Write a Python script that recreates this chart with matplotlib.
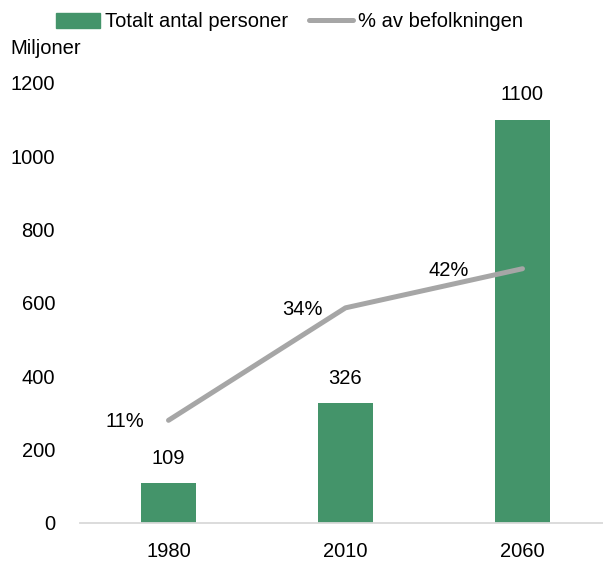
import matplotlib
matplotlib.use("Agg")
import matplotlib.pyplot as plt
from matplotlib.lines import Line2D
from matplotlib.patches import Patch

years = ["1980", "2010", "2060"]
persons = [109, 326, 1100]          # miljoner
share = [0.11, 0.34, 0.42]          # andel av befolkningen
share_labels = ["11%", "34%", "42%"]

plt.rcParams['font.family'] = ['Liberation Sans Narrow', 'Liberation Sans', 'DejaVu Sans']
plt.rcParams['font.size'] = 14.5

bar_color = '#44946A'
line_color = '#A6A6A6'

fig = plt.figure(figsize=(6.03, 5.64), dpi=100)
ax = fig.add_axes([0.1327, 0.0727, 0.8673, 0.7803])
x = range(len(years))
bars = ax.bar(x, persons, width=0.31, color=bar_color, zorder=2)
ax.set_xlim(-0.5, 2.455)
ax.set_ylim(0, 1200)
ax.set_yticks(range(0, 1201, 200))
ax.set_xticks(list(x))
ax.set_xticklabels(years)
ax.tick_params(axis='y', length=0, pad=18)
ax.tick_params(axis='x', length=0, pad=14)
for s in ['top', 'right', 'left']:
    ax.spines[s].set_visible(False)
ax.spines['bottom'].set_color('#D9D9D9')
ax.spines['bottom'].set_linewidth(1.3)

for xi, v in zip(x, persons):
    ax.annotate(str(v), (xi, v), xytext=(0, 25), textcoords='offset pixels',
                ha='center', va='center')

ax2 = ax.twinx()
ax2.set_ylim(-0.1, 0.8)
ax2.plot(list(x), share, color=line_color, lw=3.6, solid_capstyle='round', zorder=3)
ax2.axis('off')
offsets = [(-44, -1), (-43, -2), (-74, -2)]
for xi, v, lab, off in zip(x, share, share_labels, offsets):
    ax2.annotate(lab, (xi, v), xytext=off, textcoords='offset pixels',
                 ha='center', va='center')

fig.text(10 / 603, 1 - 48 / 564, "Miljoner", ha='left', va='center')

handles = [Patch(color=bar_color), Line2D([0], [0], color=line_color, lw=3.6, solid_capstyle='round')]
fig.legend(handles, ["Totalt antal personer", "% av befolkningen"], ncol=2,
           loc='center', bbox_to_anchor=(0.48, 0.961), frameon=False,
           handlelength=2.2, handletextpad=0.25, columnspacing=1.0, handleheight=0.75)

fig.savefig('out.png', dpi=100)
